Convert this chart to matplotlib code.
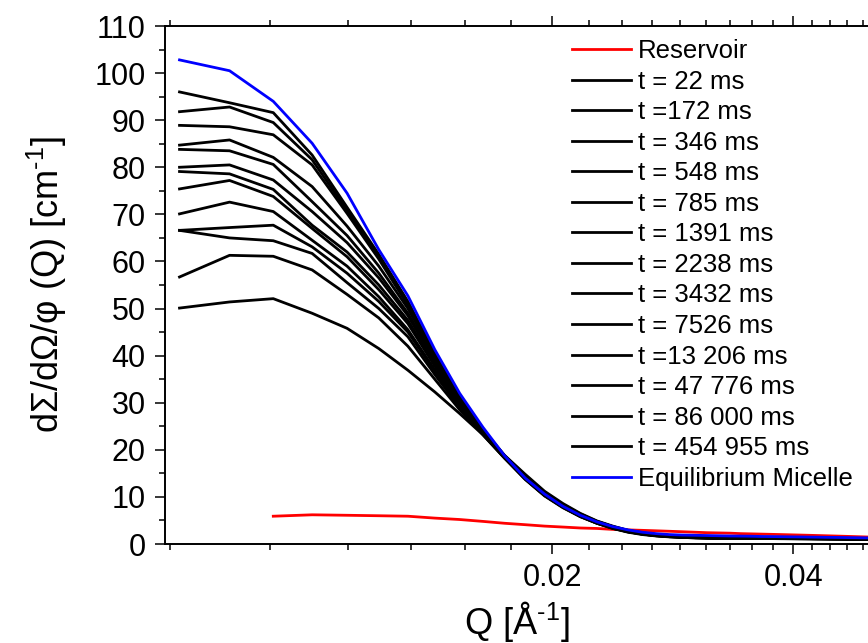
import matplotlib
matplotlib.use("Agg")
import matplotlib.pyplot as plt
from matplotlib.ticker import FixedLocator, MultipleLocator, FixedFormatter, NullFormatter

plt.rcParams["font.family"] = ["Liberation Sans", "DejaVu Sans"]
plt.rcParams["mathtext.fontset"] = "custom"
plt.rcParams["mathtext.rm"] = "Liberation Sans"
plt.rcParams["mathtext.it"] = "Liberation Sans:italic"

# Q values [1/A]
q = [0.00685, 0.00791, 0.00897, 0.01003, 0.01109, 0.01215, 0.01321, 0.01427, 0.01533, 0.01639,
     0.01745, 0.01851, 0.01957, 0.02063, 0.02169, 0.02275, 0.02381, 0.02487, 0.02593, 0.02699,
     0.02805, 0.02911, 0.03017, 0.03123, 0.03229, 0.03335, 0.03441, 0.03547, 0.03653, 0.03759,
     0.03865, 0.03971, 0.04077, 0.04183, 0.04289, 0.04395, 0.04501, 0.04607, 0.04713, 0.04819,
     0.04925, 0.05031]

# reservoir starts at the third Q point
reservoir = [5.9, 6.2, 6.1, 6.0, 5.9, 5.5, 5.2, 4.8, 4.4, 4.1, 3.8, 3.6, 3.4, 3.3, 3.1, 3.0, 2.9, 2.8,
             2.7, 2.6, 2.5, 2.4, 2.35, 2.3, 2.2, 2.15, 2.1, 2.05, 2.0, 1.95, 1.9, 1.85, 1.8, 1.75,
             1.7, 1.65, 1.6, 1.55, 1.5, 1.45]

micelle = [102.8, 100.5, 94.0, 85.1, 74.5, 62.5, 52.7, 41.3, 32.0, 24.8, 18.7,
           14.0, 10.6, 8.0, 6.1, 4.7, 3.7, 3.0, 2.5, 2.2, 2.0, 1.9, 1.85, 1.8, 1.75, 1.7, 1.68,
           1.65, 1.6, 1.58, 1.55, 1.52, 1.5, 1.47, 1.45, 1.42, 1.4, 1.38, 1.35, 1.33, 1.3, 1.28]

t_22 = [50.1, 51.4, 52.1, 49.0, 45.8, 41.5, 36.9, 32.3, 27.7, 23.2, 18.2,
        13.9, 10.5, 8.0, 6.1, 4.6, 3.5, 2.7, 2.2, 1.85, 1.65, 1.5, 1.4, 1.35, 1.3, 1.28, 1.25,
        1.25, 1.22, 1.22, 1.2, 1.2, 1.18, 1.15, 1.15, 1.12, 1.12, 1.1, 1.08, 1.08, 1.05, 1.05]
t_172 = [56.7, 61.3, 61.1, 58.2, 53.0, 48.0, 42.0, 35.0, 28.5, 23.2, 18.2,
         13.7, 10.2, 7.7, 5.8, 4.4, 3.3, 2.5, 2.0, 1.7, 1.5, 1.4, 1.3, 1.25, 1.2, 1.2, 1.18,
         1.15, 1.15, 1.15, 1.12, 1.12, 1.1, 1.1, 1.08, 1.08, 1.05, 1.05, 1.02, 1.0, 1.0, 0.98]
t_346 = [66.6, 65.0, 64.4, 61.7, 55.5, 50.0, 44.0, 36.0, 29.0, 23.4, 18.3,
         13.8, 10.3, 7.8, 5.8, 4.4, 3.3, 2.6, 2.1, 1.75, 1.55, 1.45, 1.35, 1.3, 1.25, 1.22, 1.2,
         1.2, 1.18, 1.18, 1.15, 1.15, 1.12, 1.12, 1.1, 1.1, 1.08, 1.05, 1.05, 1.02, 1.0, 1.0]
t_548 = [66.6, 67.2, 67.7, 63.1, 57.5, 51.5, 45.0, 36.7, 29.4, 23.5, 18.3,
         13.8, 10.3, 7.8, 5.9, 4.4, 3.4, 2.6, 2.1, 1.75, 1.55, 1.4, 1.3, 1.25, 1.2, 1.2, 1.18,
         1.18, 1.15, 1.15, 1.15, 1.12, 1.12, 1.1, 1.1, 1.08, 1.05, 1.05, 1.02, 1.0, 1.0, 0.98]
t_785 = [70.1, 72.6, 70.6, 64.5, 59.0, 52.5, 45.5, 37.0, 29.6, 23.6, 18.4,
         13.9, 10.4, 7.9, 5.9, 4.5, 3.4, 2.6, 2.1, 1.8, 1.6, 1.45, 1.35, 1.3, 1.25, 1.25, 1.22,
         1.2, 1.2, 1.2, 1.18, 1.15, 1.15, 1.12, 1.12, 1.1, 1.1, 1.08, 1.05, 1.05, 1.02, 1.0]
t_1391 = [75.4, 77.2, 73.8, 67.0, 61.0, 54.0, 46.8, 37.8, 30.0, 23.7, 18.4,
          14.0, 10.5, 8.0, 6.0, 4.5, 3.5, 2.7, 2.2, 1.85, 1.65, 1.5, 1.4, 1.35, 1.3, 1.3, 1.28,
          1.25, 1.25, 1.22, 1.22, 1.2, 1.2, 1.18, 1.15, 1.15, 1.12, 1.1, 1.1, 1.08, 1.05, 1.05]
t_2238 = [79.1, 78.6, 75.3, 67.7, 62.0, 55.0, 47.5, 38.2, 30.2, 23.8, 18.5,
          14.1, 10.6, 8.0, 6.0, 4.6, 3.5, 2.7, 2.2, 1.8, 1.6, 1.45, 1.35, 1.28, 1.25, 1.22, 1.22,
          1.2, 1.2, 1.2, 1.18, 1.18, 1.15, 1.15, 1.12, 1.1, 1.1, 1.08, 1.05, 1.05, 1.02, 1.0]
t_3432 = [80.0, 80.5, 77.3, 70.6, 64.0, 56.5, 48.5, 38.8, 30.5, 23.9, 18.5,
          14.2, 10.7, 8.1, 6.1, 4.6, 3.5, 2.7, 2.2, 1.85, 1.65, 1.5, 1.4, 1.3, 1.25, 1.22, 1.2,
          1.2, 1.2, 1.2, 1.18, 1.18, 1.15, 1.15, 1.12, 1.12, 1.1, 1.1, 1.08, 1.05, 1.05, 1.02]
t_7526 = [83.8, 83.5, 80.6, 72.7, 65.5, 57.5, 49.0, 39.2, 30.7, 24.0, 18.6,
          14.3, 10.8, 8.2, 6.2, 4.7, 3.6, 2.8, 2.3, 1.9, 1.7, 1.55, 1.45, 1.4, 1.35, 1.3, 1.3,
          1.3, 1.28, 1.25, 1.25, 1.22, 1.22, 1.2, 1.2, 1.18, 1.15, 1.15, 1.12, 1.1, 1.1, 1.08]
t_13206 = [84.7, 85.8, 82.1, 75.9, 67.5, 59.0, 50.0, 39.8, 30.9, 24.0, 18.6,
           14.4, 10.9, 8.3, 6.2, 4.7, 3.6, 2.8, 2.2, 1.85, 1.65, 1.5, 1.4, 1.35, 1.3, 1.3, 1.28,
           1.28, 1.25, 1.25, 1.22, 1.22, 1.2, 1.2, 1.18, 1.15, 1.15, 1.12, 1.1, 1.1, 1.08, 1.05]
t_47776 = [88.9, 88.6, 86.9, 80.5, 70.2, 60.5, 50.7, 40.0, 31.0, 24.1, 18.7,
           14.5, 11.0, 8.3, 6.3, 4.8, 3.7, 2.8, 2.3, 1.9, 1.7, 1.5, 1.4, 1.35, 1.3, 1.3, 1.3,
           1.28, 1.28, 1.25, 1.25, 1.25, 1.22, 1.2, 1.2, 1.18, 1.15, 1.15, 1.12, 1.1, 1.1, 1.08]
t_86000 = [91.8, 92.8, 89.5, 81.6, 70.8, 61.0, 51.0, 40.3, 31.2, 24.2, 18.7,
           14.6, 11.0, 8.4, 6.4, 4.8, 3.7, 2.9, 2.3, 1.9, 1.7, 1.55, 1.45, 1.4, 1.4, 1.35, 1.35,
           1.3, 1.3, 1.3, 1.28, 1.28, 1.25, 1.25, 1.22, 1.2, 1.2, 1.18, 1.15, 1.15, 1.12, 1.1]
t_454955 = [96.0, 93.7, 91.6, 82.6, 71.5, 61.5, 51.5, 40.5, 31.3, 24.3, 18.8,
            14.8, 11.2, 8.6, 6.5, 4.9, 3.8, 2.9, 2.4, 2.0, 1.8, 1.6, 1.5, 1.45, 1.4, 1.4, 1.35,
            1.35, 1.35, 1.3, 1.3, 1.3, 1.28, 1.25, 1.25, 1.22, 1.2, 1.2, 1.18, 1.15, 1.15, 1.12]

time_labels = ["t = 22 ms", "t =172 ms", "t = 346 ms", "t = 548 ms", "t = 785 ms",
               "t = 1391 ms", "t = 2238 ms", "t = 3432 ms", "t = 7526 ms", "t =13 206 ms",
               "t = 47 776 ms", "t = 86 000 ms", "t = 454 955 ms"]
time_series = [t_22, t_172, t_346, t_548, t_785, t_1391, t_2238, t_3432, t_7526, t_13206,
               t_47776, t_86000, t_454955]

fig = plt.figure(figsize=(8.68, 6.43), dpi=100)
ax = fig.add_axes([165 / 868, 1 - 544 / 643, 1 - 165 / 868, (544 - 26) / 643])

lw = 2.0
h_res, = ax.plot(q[2:], reservoir, color="#ff0000", lw=lw, label="Reservoir")
handles = [h_res]
for ys, lab in zip(time_series, time_labels):
    h, = ax.plot(q, ys, color="black", lw=lw, label=lab)
    handles.append(h)
h_mic, = ax.plot(q, micelle, color="#0000ff", lw=lw, label="Equilibrium Micelle")
handles.append(h_mic)

ax.set_xscale("log")
ax.set_xlim(0.00657, 0.0496)
ax.set_ylim(0, 110)

ax.xaxis.set_major_locator(FixedLocator([0.02, 0.04]))
ax.xaxis.set_major_formatter(FixedFormatter(["0.02", "0.04"]))
ax.xaxis.set_minor_locator(MultipleLocator(0.02 / 9))
ax.xaxis.set_minor_formatter(NullFormatter())
ax.yaxis.set_major_locator(MultipleLocator(10))
ax.yaxis.set_minor_locator(MultipleLocator(5))

ax.spines["right"].set_visible(False)
for s in ["left", "bottom", "top"]:
    ax.spines[s].set_linewidth(1.4)

ax.tick_params(which="both", direction="out", top=True, right=False, width=1.1,
               labelsize=22, pad=7)
ax.tick_params(which="major", length=7)
ax.tick_params(which="minor", length=4)

ax.set_xlabel(r"Q [Å$^{\text{-1}}$]", fontsize=26, labelpad=4)
ax.set_ylabel(r"dΣ/dΩ/φ (Q) [cm$^{\text{-1}}$]", fontsize=26, labelpad=18)

ax.legend(handles=handles, loc="upper left", bbox_to_anchor=(572 / 868, 1 - 39 / 643),
          bbox_transform=fig.transFigure, frameon=False, fontsize=18.5,
          handlelength=2.3, handletextpad=0.27, labelspacing=0.255,
          borderpad=0, borderaxespad=0)

fig.savefig("out.png", dpi=100)
